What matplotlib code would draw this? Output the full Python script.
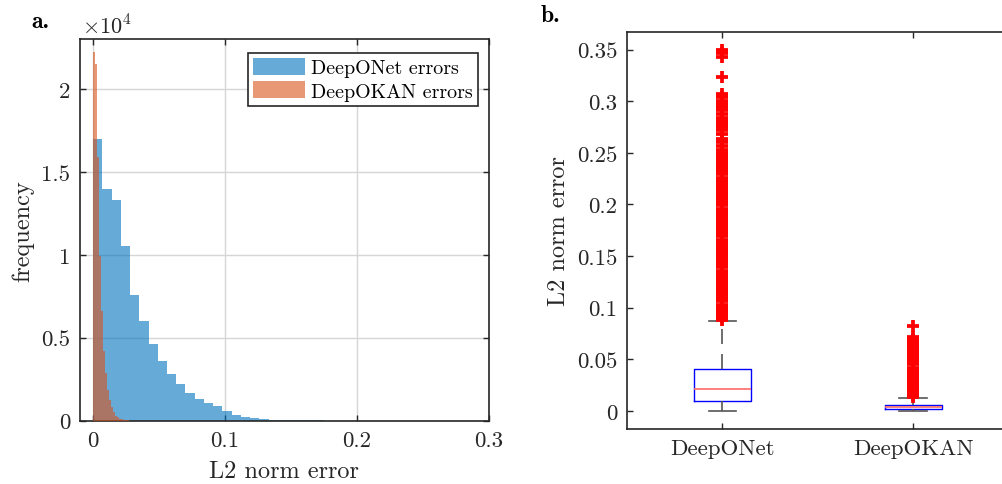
import numpy as np
import matplotlib
matplotlib.use("Agg")
import matplotlib.pyplot as plt
from matplotlib.patches import Patch

plt.rcParams['font.family'] = 'serif'
plt.rcParams['font.serif'] = ['cmr10']
plt.rcParams['mathtext.fontset'] = 'cm'
plt.rcParams['axes.unicode_minus'] = False
plt.rcParams['axes.formatter.use_mathtext'] = True

# histogram (panel a)
onet_binw = 0.007
onet_counts = [17000, 13950, 13300, 10500, 7580, 6030, 4620, 3610, 2820, 2200,
               1690, 1310, 1070, 870, 600, 360, 220, 140, 100, 60,
               40, 30, 25, 20, 15, 10, 8, 5, 3, 2]
okan_binw = 0.0015
okan_counts = [22200, 21500, 15900, 9900, 6600, 4200, 2900, 1850, 1250, 800,
               500, 300, 200, 120, 80, 50, 30, 20, 10]
hist_labels = ['DeepONet errors', 'DeepOKAN errors']
hist_xticks = [0, 0.1, 0.2, 0.3]
hist_xticklabels = ['0', '0.1', '0.2', '0.3']
hist_yticks = [0, 5000, 10000, 15000, 20000]
hist_yticklabels = ['0', '0.5', '1', '1.5', '2']

# boxplot (panel b)
box_names = ['DeepONet', 'DeepOKAN']
box_q1 = [0.0100, 0.0019]
box_med = [0.0216, 0.0039]
box_q3 = [0.0407, 0.0061]
box_wlo = [0.0, 0.0]
box_whi = [0.0872, 0.0129]
onet_fliers = [0.350, 0.347, 0.343, 0.323, 0.307, 0.304, 0.300, 0.297, 0.294,
               0.291, 0.288, 0.284, 0.281, 0.278, 0.275, 0.272, 0.268, 0.263,
               0.260, 0.257, 0.253, 0.250, 0.247, 0.244, 0.241, 0.238, 0.235,
               0.232, 0.229, 0.226, 0.223, 0.220, 0.217, 0.214, 0.211, 0.208,
               0.205, 0.202, 0.199, 0.196, 0.193, 0.190, 0.187, 0.184, 0.181,
               0.178, 0.175, 0.172, 0.169, 0.166, 0.163, 0.160, 0.157, 0.154,
               0.151, 0.148, 0.145, 0.142, 0.139, 0.136, 0.133, 0.130, 0.127,
               0.124, 0.121, 0.118, 0.115, 0.112, 0.109, 0.106, 0.103, 0.100,
               0.097, 0.094, 0.091, 0.088]
okan_fliers = [0.082, 0.072, 0.069, 0.066, 0.063, 0.060, 0.057, 0.054, 0.051,
               0.048, 0.045, 0.042, 0.039, 0.036, 0.033, 0.030, 0.027, 0.024,
               0.021, 0.018, 0.015, 0.0135]
box_yticks = [0, 0.05, 0.1, 0.15, 0.2, 0.25, 0.3, 0.35]
box_yticklabels = ['0', '0.05', '0.1', '0.15', '0.2', '0.25', '0.3', '0.35']

blue = '#0072BD'
orange = '#D95319'
axcol = '#262626'

fig = plt.figure(figsize=(10.02, 4.85), dpi=100)
ax1 = fig.add_axes([0.0798, 0.1305, 0.408, 0.787])
ax2 = fig.add_axes([0.6257, 0.1134, 0.381, 0.8186])

for ax in (ax1, ax2):
    for s in ax.spines.values():
        s.set_color(axcol)
        s.set_linewidth(1.2)
    ax.tick_params(direction='in', length=4, width=1, colors=axcol,
                   labelsize=16.5, top=True, right=True, pad=7)

# panel a
onet_edges = np.arange(len(onet_counts)) * onet_binw
okan_edges = np.arange(len(okan_counts)) * okan_binw
ax1.bar(onet_edges, onet_counts, width=onet_binw, align='edge',
        color=blue, alpha=0.6, linewidth=0, zorder=2)
ax1.bar(okan_edges, okan_counts, width=okan_binw, align='edge',
        color=orange, alpha=0.6, linewidth=0, zorder=3)
ax1.set_xlim(-0.01, 0.3)
ax1.set_ylim(0, 23000)
ax1.set_xticks(hist_xticks)
ax1.set_xticklabels(hist_xticklabels)
ax1.set_yticks(hist_yticks)
ax1.set_yticklabels(hist_yticklabels)
ax1.grid(True, color='#d6d6d6', linewidth=1.0, zorder=0)
ax1.set_axisbelow(True)
ax1.set_xlabel('L2 norm error', fontsize=17.5, color=axcol, labelpad=7)
ax1.set_ylabel('frequency', fontsize=17.5, color=axcol, labelpad=5)
ax1.text(0.005, 1.005, r'$\times 10^{4}$', transform=ax1.transAxes,
         fontsize=16, color=axcol, ha='left', va='bottom')
handles = [Patch(facecolor=blue, alpha=0.6, linewidth=0),
           Patch(facecolor=orange, alpha=0.6, linewidth=0)]
leg = ax1.legend(handles, hist_labels, loc='upper right',
                 bbox_to_anchor=(0.973, 0.963), borderaxespad=0, fontsize=14.4,
                 fancybox=False, framealpha=1, edgecolor=axcol,
                 handlelength=2.6, handleheight=0.9, handletextpad=0.3,
                 labelspacing=0.2, borderpad=0.25)
leg.get_frame().set_linewidth(1.2)

# panel b
stats = []
fliers = [onet_fliers, okan_fliers]
for i in range(len(box_names)):
    stats.append(dict(med=box_med[i], q1=box_q1[i], q3=box_q3[i],
                      whislo=box_wlo[i], whishi=box_whi[i],
                      fliers=fliers[i], label=box_names[i]))
ax2.bxp(stats, positions=[1, 2], widths=0.3, capwidths=0.145,
        boxprops=dict(color='#0000ff', linewidth=1.0),
        medianprops=dict(color='#ff6a6a', linewidth=1.2),
        whiskerprops=dict(color='#555555', linewidth=1.2, dashes=(9, 6)),
        capprops=dict(color='#555555', linewidth=1.2),
        flierprops=dict(marker='+', markersize=8, markeredgewidth=2.7,
                        markeredgecolor='red', linestyle='none'))
ax2.set_xlim(0.5, 2.5)
ax2.set_ylim(-0.0175, 0.367)
ax2.set_yticks(box_yticks)
ax2.set_yticklabels(box_yticklabels)
ax2.set_xticks([1, 2])
ax2.set_xticklabels(box_names)
ax2.set_ylabel('L2 norm error', fontsize=17.5, color=axcol, labelpad=5)

fig.text(0.031, 0.955, 'a.', fontsize=17, family='cmb10', va='center')
fig.text(0.540, 0.967, 'b.', fontsize=17, family='cmb10', va='center')

fig.savefig('out.png', dpi=100)
